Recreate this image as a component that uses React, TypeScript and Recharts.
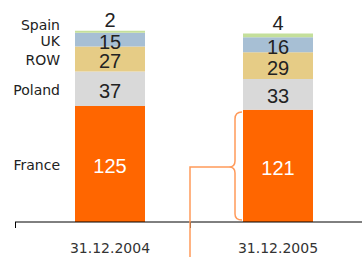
import { BarChart, Bar, XAxis, YAxis, LabelList } from 'recharts';

const categories = ['31.12.2004', '31.12.2005'];
const france = [125, 121];
const poland = [37, 33];
const row = [27, 29];
const uk = [15, 16];
const spain = [2, 4];

const series = [
  { key: 'France', values: france, color: '#ff6600', text: '#ffffff' },
  { key: 'Poland', values: poland, color: '#d9d9d9', text: '#222222' },
  { key: 'ROW', values: row, color: '#e6cc86', text: '#222222' },
  { key: 'UK', values: uk, color: '#a7bfd4', text: '#222222' },
  { key: 'Spain', values: spain, color: '#c4df9b', text: '#222222' },
];

const data = categories.map((c, i) => {
  const d: { [k: string]: string | number } = { date: c };
  series.forEach((s) => {
    d[s.key] = s.values[i];
  });
  return d;
});

const valueFont = '"Liberation Sans", Arial, sans-serif';
const labelFont = '"DejaVu Sans", sans-serif';

function valueLabel(color: string, above: boolean) {
  return (props: any) => {
    const vb = props.viewBox || props;
    const { x, y, width, height } = vb;
    const cx = x + width / 2;
    const cy = above ? y - 4 : y + height / 2 + 9;
    return (
      <text x={cx} y={cy} textAnchor="middle" fill={color} fontSize={20} fontFamily={valueFont}>
        {props.value}
      </text>
    );
  };
}

function nameLabel(name: string, dy: number) {
  return (props: any) => {
    if (props.index !== 0) return null;
    const vb = props.viewBox || props;
    const { x, y, height } = vb;
    return (
      <text x={x - 15} y={y + height / 2 + dy} textAnchor="end" fill="#222" fontSize={14} fontFamily={labelFont}>
        {name}
      </text>
    );
  };
}

export default function App() {
  return (
    <div style={{ position: 'absolute', left: 0, top: 0, width: 362, height: 257, background: '#fff' }}>
      <BarChart
        width={362}
        height={257}
        data={data}
        margin={{ top: 2, right: 0, left: 15, bottom: 5 }}
        barSize={70}
      >
        <XAxis
          dataKey="date"
          padding={{ left: 11, right: 0 }}
          height={30}
          tickLine={false}
          tickSize={0}
          tickMargin={21}
          axisLine={{ stroke: '#000', strokeWidth: 1 }}
          tick={{ fill: '#333', fontSize: 14, fontFamily: labelFont }}
        />
        <YAxis hide domain={[0, 237]} />
        {series.map((s) => (
          <Bar key={s.key} dataKey={s.key} stackId="a" fill={s.color} isAnimationActive={false}>
            <LabelList dataKey={s.key} content={valueLabel(s.text, s.key === 'Spain')} />
            <LabelList dataKey={s.key} content={nameLabel(s.key, s.key === 'Spain' ? -2 : 6)} />
          </Bar>
        ))}
      </BarChart>
      <svg width={362} height={257} style={{ position: 'absolute', left: 0, top: 0, pointerEvents: 'none' }}>
        <line x1={15.5} y1={222} x2={15.5} y2={228} stroke="#000" />
        <line x1={190.5} y1={222} x2={190.5} y2={228} stroke="#000" />
        <path
          d="M242,112 Q235,112 235,119 L235,161 Q235,167 229,167 Q235,167 235,173 L235,214 Q235,220 242,220"
          fill="none"
          stroke="#ff9a5a"
          strokeWidth={1.5}
        />
        <path d="M229,167 L190,167 L190,257" fill="none" stroke="#ff9a5a" strokeWidth={1.5} />
      </svg>
    </div>
  );
}
